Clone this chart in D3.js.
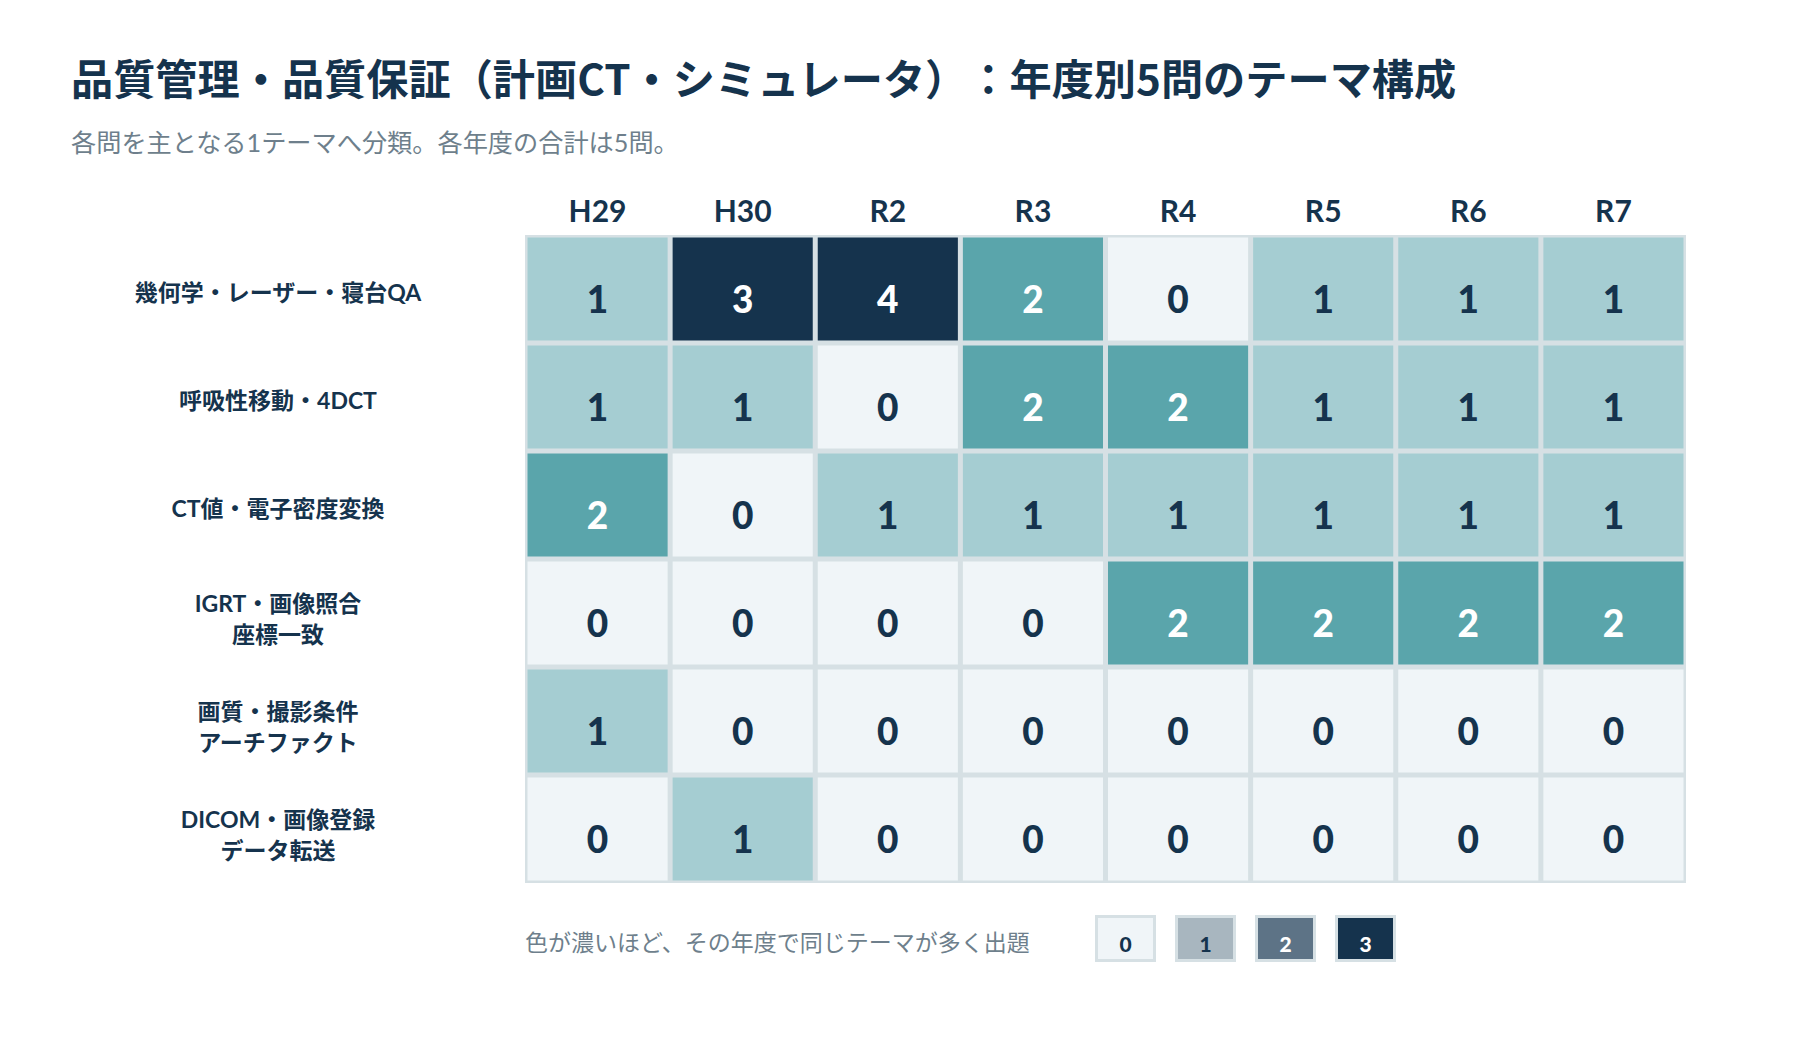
<!DOCTYPE html>
<html lang="ja">
<head>
<meta charset="utf-8">
<title>品質管理・品質保証 年度別テーマ構成</title>
<script src="https://cdn.jsdelivr.net/npm/d3@7"></script>
<style>
  body { margin: 0; background: #ffffff; }
  svg { display: block; }
  text { text-spacing-trim: space-all; }
  .latin { font-family: Lato, "Noto Sans CJK JP", sans-serif; }
  .cjk { font-family: "Noto Sans CJK JP", Lato, sans-serif; }
</style>
</head>
<body>
<div id="chart"></div>
<script>
// years (columns)
var years = ["H29", "H30", "R2", "R3", "R4", "R5", "R6", "R7"];

// themes (rows), split into display lines
var themes = [
  ["幾何学・レーザー・寝台QA"],
  ["呼吸性移動・4DCT"],
  ["CT値・電子密度変換"],
  ["IGRT・画像照合", "座標一致"],
  ["画質・撮影条件", "アーチファクト"],
  ["DICOM・画像登録", "データ転送"]
];

// questions per theme per year
var geometryQA    = [1, 3, 4, 2, 0, 1, 1, 1];
var respiration   = [1, 1, 0, 2, 2, 1, 1, 1];
var ctDensity     = [2, 0, 1, 1, 1, 1, 1, 1];
var igrtMatching  = [0, 0, 0, 0, 2, 2, 2, 2];
var imageQuality  = [1, 0, 0, 0, 0, 0, 0, 0];
var dicomTransfer = [0, 1, 0, 0, 0, 0, 0, 0];
var counts = [geometryQA, respiration, ctDensity, igrtMatching, imageQuality, dicomTransfer];

// legend steps
var legendSteps = [0, 1, 2, 3];

var W = 1800, H = 1040;
var navy = "#15334d";
var gridLine = "#d6e0e4";

var svg = d3.select("#chart")
  .append("svg")
    .attr("width", W)
    .attr("height", H);

// title + subtitle
svg.append("text")
  .attr("class", "cjk")
  .attr("x", 71)
  .attr("y", 95)
  .style("font-size", "42.2px")
  .style("font-weight", 700)
  .style("fill", navy)
  .text("品質管理・品質保証（計画CT・シミュレータ）：年度別5問のテーマ構成");

svg.append("text")
  .attr("class", "latin")
  .attr("x", 71)
  .attr("y", 152)
  .style("font-size", "25.2px")
  .style("fill", "#6e7f8c")
  .text("各問を主となる1テーマへ分類。各年度の合計は5問。");

// scales
var rowIds = d3.range(themes.length);
var x = d3.scaleBand()
  .domain(years)
  .range([525, 1686]);

var y = d3.scaleBand()
  .domain(rowIds)
  .range([235, 883]);

var color = d3.scaleThreshold()
  .domain([1, 2, 3])
  .range(["#f0f5f8", "#a5cdd2", "#5aa5ab", navy]);

var textColor = d3.scaleThreshold()
  .domain([2])
  .range([navy, "#ffffff"]);

// grid background (shows through as cell borders)
svg.append("rect")
  .attr("x", x.range()[0])
  .attr("y", y.range()[0])
  .attr("width", x.range()[1] - x.range()[0])
  .attr("height", y.range()[1] - y.range()[0])
  .style("fill", gridLine);

// flatten cells
var cells = [];
counts.forEach(function(row, r) {
  row.forEach(function(v, c) {
    cells.push({row: r, year: years[c], value: v});
  });
});

var inset = 2.5;
var cell = svg.append("g")
  .selectAll("g")
  .data(cells)
  .enter()
  .append("g");

cell.append("rect")
  .attr("x", function(d) { return x(d.year) + inset; })
  .attr("y", function(d) { return y(d.row) + inset; })
  .attr("width", x.bandwidth() - inset * 2)
  .attr("height", y.bandwidth() - inset * 2)
  .style("fill", function(d) { return color(d.value); });

cell.append("text")
  .attr("class", "latin")
  .attr("x", function(d) { return x(d.year) + x.bandwidth() / 2; })
  .attr("y", function(d) { return y(d.row) + y.bandwidth() / 2 + 24; })
  .attr("text-anchor", "middle")
  .style("font-size", "37px")
  .style("font-weight", 900)
  .style("fill", function(d) { return textColor(d.value); })
  .text(function(d) { return d.value; });

// column headers
var xAxis = svg.append("g")
  .attr("transform", "translate(0," + y.range()[0] + ")")
  .call(d3.axisTop(x).tickSize(0).tickPadding(13));
xAxis.select(".domain").remove();
xAxis.selectAll("text")
  .attr("class", "latin")
  .style("font-size", "30px")
  .style("font-weight", 700)
  .style("fill", navy);

// row labels
var lineGap = 31;
var labels = svg.append("g")
  .selectAll("text")
  .data(rowIds)
  .enter()
  .append("text")
    .attr("class", "latin")
    .attr("text-anchor", "middle")
    .style("font-size", "23px")
    .style("font-weight", 700)
    .style("fill", navy);

labels.selectAll("tspan")
  .data(function(r) {
    var lines = themes[r];
    return lines.map(function(t, i) {
      return {text: t, dy: (i - (lines.length - 1) / 2) * lineGap, row: r};
    });
  })
  .enter()
  .append("tspan")
    .attr("x", 278)
    .attr("y", function(d) {
      var off = themes[d.row].length > 1 ? 14 : 12;
      return y(d.row) + y.bandwidth() / 2 + off + d.dy;
    })
    .text(function(d) { return d.text; });

// legend
svg.append("text")
  .attr("class", "latin")
  .attr("x", 525)
  .attr("y", 951)
  .style("font-size", "23px")
  .style("fill", "#6e7f8c")
  .text("色が濃いほど、その年度で同じテーマが多く出題");

var legendColor = d3.scaleOrdinal()
  .domain(legendSteps)
  .range(["#f0f5f8", "#a8b6bf", "#5d7386", navy]);

var lx = d3.scaleBand()
  .domain(legendSteps)
  .range([1095, 1415]);

var legend = svg.append("g")
  .selectAll("g")
  .data(legendSteps)
  .enter()
  .append("g");

legend.append("rect")
  .attr("x", function(d) { return lx(d) + 1.5; })
  .attr("y", 916.5)
  .attr("width", 58)
  .attr("height", 44)
  .style("fill", function(d) { return legendColor(d); })
  .style("stroke", gridLine)
  .style("stroke-width", 3);

legend.append("text")
  .attr("class", "latin")
  .attr("x", function(d) { return lx(d) + 30.5; })
  .attr("y", 952)
  .attr("text-anchor", "middle")
  .style("font-size", "21px")
  .style("font-weight", 900)
  .style("fill", function(d) { return textColor(d); })
  .text(function(d) { return d; });
</script>
</body>
</html>
